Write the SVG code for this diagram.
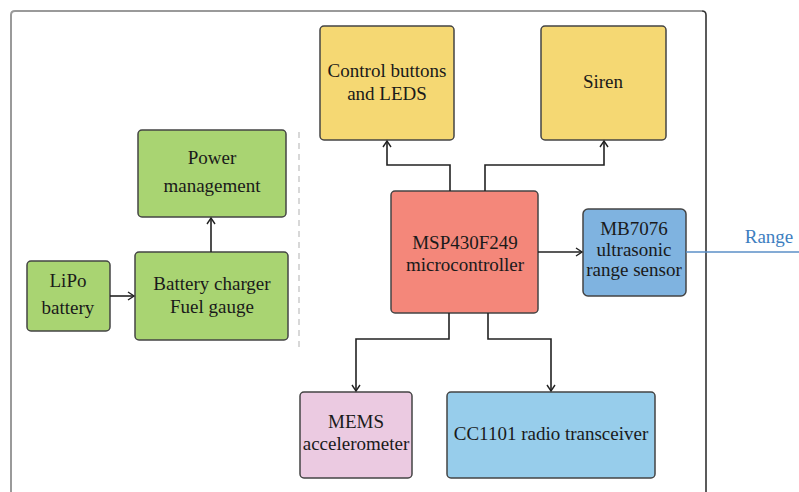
<svg xmlns="http://www.w3.org/2000/svg" width="799" height="492" viewBox="0 0 799 492">
<defs>
<marker id="arr" markerWidth="10" markerHeight="10" refX="8" refY="5" orient="auto" markerUnits="userSpaceOnUse">
<path d="M2,1 L8,5 L2,9" fill="none" stroke="#222" stroke-width="1.4"/>
</marker>
<style>
.box{stroke:#444;stroke-width:1.5}
.t{font-family:"Liberation Serif","Times New Roman",serif;font-size:19px;fill:#1a1a1a;text-anchor:middle}
.c{fill:none;stroke:#222;stroke-width:1.6}
</style>
</defs>
<rect width="799" height="492" fill="#fff"/>
<g id="frame">
<path d="M11,492 L11,15 Q11,11 15,11 L702,11" fill="none" stroke="#9a9a9a" stroke-width="2"/>
<path d="M702,11 Q706,11 706,15 L706,492" fill="none" stroke="#333" stroke-width="1.6"/>
<line x1="299" y1="132" x2="299" y2="348" stroke="#ccc" stroke-width="1.5" stroke-dasharray="6,5"/>
</g>
<g id="control">
<rect class="box" x="320" y="26" width="134" height="114" rx="4" fill="#F5D873"/>
<text class="t" x="387" y="77">Control buttons</text>
<text class="t" x="387" y="100">and LEDS</text>
</g>
<g id="siren">
<rect class="box" x="541" y="26" width="125" height="114" rx="4" fill="#F5D873"/>
<text class="t" x="603" y="88">Siren</text>
</g>
<g id="power">
<rect class="box" x="138" y="130" width="148" height="87" rx="4" fill="#A9D472"/>
<text class="t" x="212" y="164">Power</text>
<text class="t" x="212" y="192">management</text>
</g>
<g id="lipo">
<rect class="box" x="27" y="261" width="83" height="70" rx="4" fill="#A9D472"/>
<text class="t" x="68" y="287">LiPo</text>
<text class="t" x="68" y="314">battery</text>
</g>
<g id="charger">
<rect class="box" x="135" y="252" width="153" height="88" rx="4" fill="#A9D472"/>
<text class="t" x="212" y="290">Battery charger</text>
<text class="t" x="212" y="313">Fuel gauge</text>
</g>
<g id="msp">
<rect class="box" x="391" y="191" width="147" height="122" rx="4" fill="#F4877A"/>
<text class="t" x="465" y="249">MSP430F249</text>
<text class="t" x="465" y="271">microcontroller</text>
</g>
<g id="mb7076">
<rect class="box" x="583" y="209" width="103" height="87" rx="5" fill="#7FB3E0"/>
<text class="t" x="634" y="235">MB7076</text>
<text class="t" x="634" y="256">ultrasonic</text>
<text class="t" x="634" y="276">range sensor</text>
</g>
<g id="mems">
<rect class="box" x="300" y="392" width="112" height="86" rx="4" fill="#EBCAE1"/>
<text class="t" x="356" y="428">MEMS</text>
<text class="t" x="356" y="450">accelerometer</text>
</g>
<g id="cc1101">
<rect class="box" x="447" y="392" width="208" height="86" rx="4" fill="#97CDEB"/>
<text class="t" x="551" y="440">CC1101 radio transceiver</text>
</g>
<g id="range">
<text x="769" y="243" style="font-family:'Liberation Serif','Times New Roman',serif;font-size:19px;fill:#3D7EBF;text-anchor:middle">Range</text>
</g>
<g id="connectors">
<path class="c" d="M110,296 L134,296" marker-end="url(#arr)"/>
<path class="c" d="M211,252 L211,218" marker-end="url(#arr)"/>
<path class="c" d="M450,191 L450,165 L387,165 L387,141" marker-end="url(#arr)"/>
<path class="c" d="M485,191 L485,165 L604,165 L604,141" marker-end="url(#arr)"/>
<path class="c" d="M538,252 L582,252" marker-end="url(#arr)"/>
<path class="c" d="M449,313 L449,339 L356,339 L356,391" marker-end="url(#arr)"/>
<path class="c" d="M488,313 L488,339 L551,339 L551,391" marker-end="url(#arr)"/>
<line x1="686" y1="252" x2="799" y2="252" stroke="#5B8FC7" stroke-width="1.5"/>
</g>
</svg>
